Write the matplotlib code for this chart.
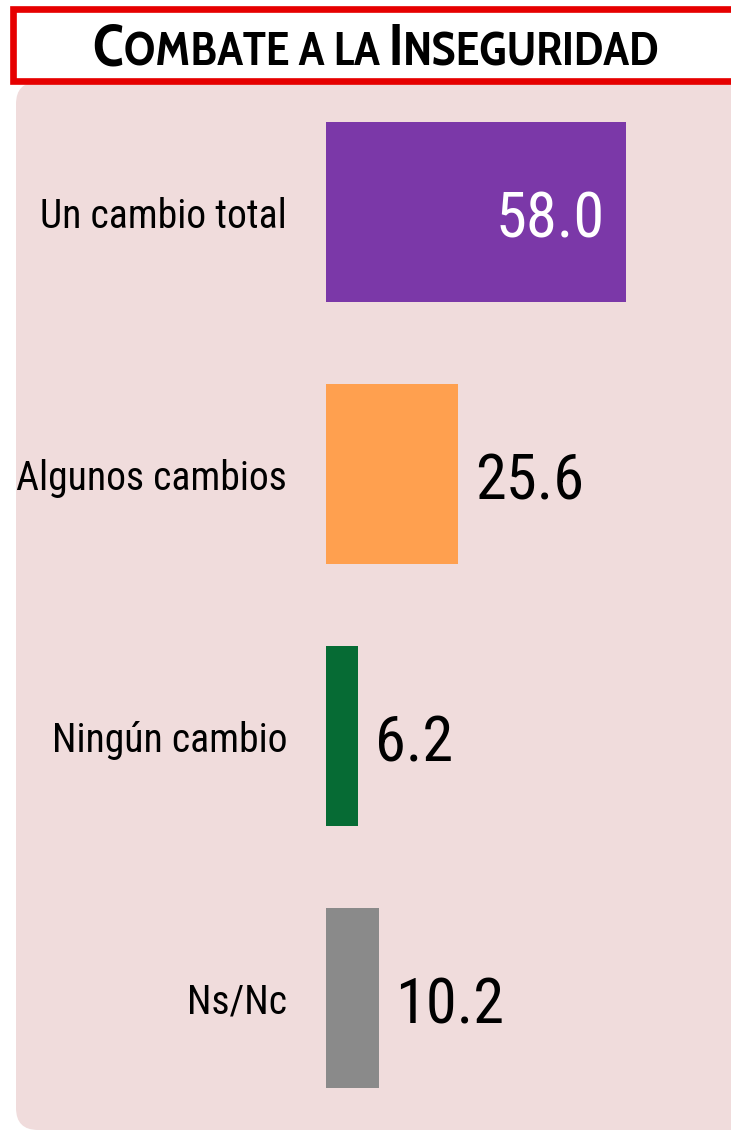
import matplotlib
matplotlib.use("Agg")
import matplotlib.pyplot as plt
from matplotlib.patches import FancyBboxPatch, Rectangle
from matplotlib.transforms import IdentityTransform

categories = ["Un cambio total", "Algunos cambios", "Ningún cambio", "Ns/Nc"]
values = [58.0, 25.6, 6.2, 10.2]
value_labels = ["58.0", "25.6", "6.2", "10.2"]
colors = ["#7B38A8", "#FFA04F", "#066B34", "#8A8A8A"]
title_parts = [("C", True), ("OMBATE A LA ", False), ("I", True), ("NSEGURIDAD", False)]

narrow = ["Roboto Condensed", "DejaVu Sans"]
title_font = ["Cabin Condensed", "DejaVu Sans"]

W, H, DPI = 731, 1134, 100
fig = plt.figure(figsize=(W / DPI, H / DPI), dpi=DPI)
fig.patch.set_facecolor("white")

PINK = "#F0DCDC"
panel = FancyBboxPatch((16, 4), 800, 1052 - 4, boxstyle="round,pad=0,rounding_size=22",
                       transform=IdentityTransform(), facecolor=PINK, edgecolor="none", zorder=0)
fig.patches.append(panel)

px_per_unit = 300 / 58.0
ax_left, ax_w = 326, 400
ax_top, ax_bot = 81, 1129
ax = fig.add_axes([ax_left / W, (H - ax_bot) / H, ax_w / W, (ax_bot - ax_top) / H])
ax.set_zorder(2)
ax.set_facecolor("none")
ax.set_xlim(0, ax_w / px_per_unit)
ax.set_ylim(3.5, -0.5)
ypos = list(range(len(categories)))
ax.barh(ypos, values, height=180 / 262, color=colors, zorder=2)
for s in ax.spines.values():
    s.set_visible(False)
ax.set_xticks([])
ax.set_yticks(ypos, labels=categories)
ax.tick_params(axis="y", length=0, pad=28)
for lab in ax.get_yticklabels():
    lab.set_fontfamily(narrow)
    lab.set_fontsize(28.5)
    lab.set_color("black")

for i, (v, t) in enumerate(zip(values, value_labels)):
    if i == 0:
        ax.annotate(t, (v, i), xytext=(-15, -18), textcoords="offset points",
                    ha="right", va="baseline", color="white", fontsize=45,
                    family=narrow, zorder=3)
    else:
        ax.annotate(t, (v, i), xytext=(12, -18), textcoords="offset points",
                    ha="left", va="baseline", color="black", fontsize=45,
                    family=narrow, zorder=3)

tb = Rectangle((13, H - 81), 800, 72, transform=IdentityTransform(),
               facecolor="white", edgecolor="#E60000", linewidth=4.8, zorder=5)
fig.patches.append(tb)

big_fs, small_fs = 42.5, 34.5
texts = []
for s, big in title_parts:
    t = fig.text(0, 0, s, fontsize=big_fs if big else small_fs, fontweight="bold",
                 family=title_font, va="baseline", ha="left",
                 transform=IdentityTransform(), zorder=6)
    texts.append(t)
fig.canvas.draw()
r = fig.canvas.get_renderer()
widths = [t.get_window_extent(r).width for t in texts]
total = sum(widths)
x = 376 - total / 2
base_y = H - 65
for t, w in zip(texts, widths):
    t.set_position((x, base_y))
    x += w

fig.savefig("out.png", dpi=DPI)
